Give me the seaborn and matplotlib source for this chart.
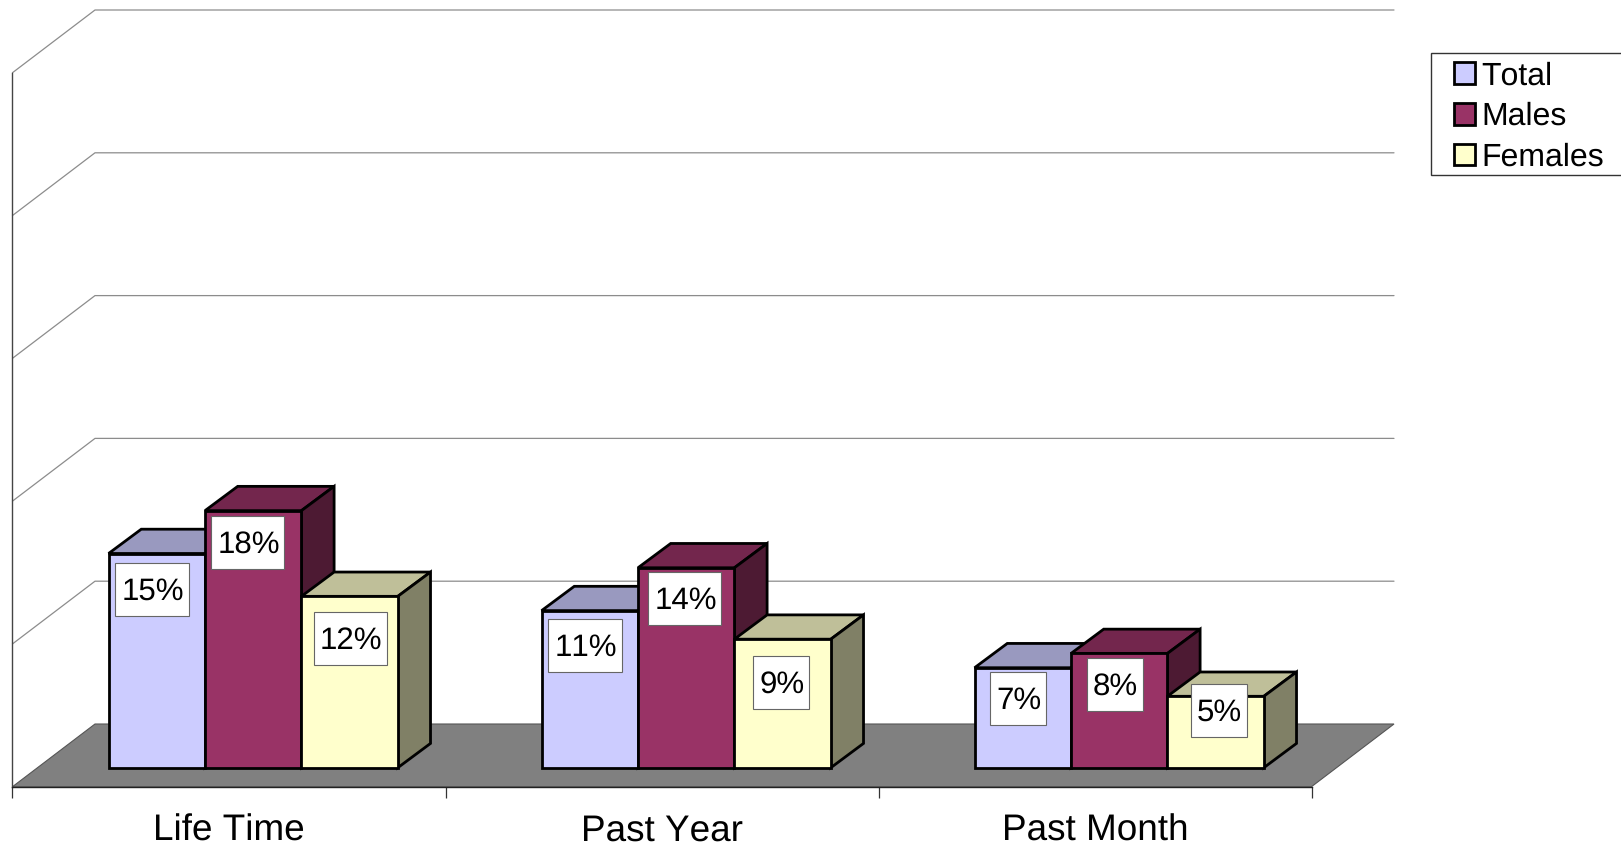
import pandas as pd
import matplotlib
matplotlib.use('Agg')
import matplotlib.pyplot as plt
from matplotlib.patches import Patch, Polygon, Rectangle
from matplotlib.transforms import IdentityTransform
from matplotlib.ticker import FixedLocator
import seaborn as sns

categories = ['Life Time', 'Past Year', 'Past Month']
series = ['Total', 'Males', 'Females']
total = [15, 11, 7]
males = [18, 14, 8]
females = [12, 9, 5]

front_colors = ['#CCCCFF', '#993366', '#FFFFCC']
top_colors = ['#9999BF', '#73264D', '#BFBF99']
side_colors = ['#666680', '#4D1A33', '#808066']

W, H = 1621, 851
X0, Y0 = 12.5, 786.7      # pixel position of the front left corner
PX_X, PX_Y = 433.0, 14.28  # pixels per category / per percent
BACK_DX, BACK_DY = 82.5 / PX_X, 62.7 / PX_Y
DEPTH_X, DEPTH_Y = 32.7 / PX_X, 24.3 / PX_Y
BAR_SHIFT_X, BAR_SHIFT_Y = 24.2 / PX_X, 19.0 / PX_Y
EDGE = 2.0

# label box centre relative to the bar's top centre, in pixels
label_dx = [[-5, -5.5, 0.7], [-5, -1.6, -1.5], [-5, -4.5, 3]]
label_dy = [[36, 32, 42], [35, 31, 43], [31, 31, 14]]

sns.set_style('white')
plt.rcParams['font.family'] = ['Liberation Sans', 'DejaVu Sans']
plt.rcParams['text.hinting'] = 'none'
plt.rcParams['text.kerning_factor'] = 20

df = pd.DataFrame({
    'category': categories * 3,
    'series': [s for s in series for _ in categories],
    'value': total + males + females,
})

fig = plt.figure(figsize=(W / 100, H / 100), dpi=100)
ax = fig.add_axes([0, 0, 1, 1])
ax.patch.set_alpha(0)

sns.barplot(data=df, x='category', y='value', hue='series', order=categories,
            hue_order=series, palette=front_colors, width=0.668, legend=False,
            saturation=1, errorbar=None, ax=ax)

ax.set_xlim(-0.5 - X0 / PX_X, -0.5 + (W - X0) / PX_X)
ax.set_ylim((Y0 - H) / PX_Y, Y0 / PX_Y)

# floor and back wall
x_l, x_r = -0.5, 2.5
ax.add_patch(Polygon([(x_l, 0), (x_r, 0), (x_r + BACK_DX, BACK_DY), (x_l + BACK_DX, BACK_DY)],
                     facecolor='#808080', edgecolor='#555555', lw=0.8, zorder=1))
for level in range(10, 60, 10):
    ax.plot([x_l, x_l + BACK_DX, x_r + BACK_DX], [level, level + BACK_DY, level + BACK_DY],
            color='#8c8c8c', lw=0.9, zorder=1)

# 3d faces of the bars
renderer = fig.canvas.get_renderer()
for s, container in enumerate(ax.containers):
    for c, bar in enumerate(container):
        bx0 = bar.get_x() + BAR_SHIFT_X
        bw = bar.get_width()
        value = bar.get_height()
        bar.set_x(bx0)
        bar.set_y(BAR_SHIFT_Y)
        bar.set_edgecolor('black')
        bar.set_linewidth(EDGE)
        bar.set_zorder(3 + s + 0.5)
        bar.set_joinstyle('miter')
        top = BAR_SHIFT_Y + value
        ax.add_patch(Polygon([(bx0, top), (bx0 + bw, top), (bx0 + bw + DEPTH_X, top + DEPTH_Y),
                              (bx0 + DEPTH_X, top + DEPTH_Y)],
                             facecolor=top_colors[s], edgecolor='black', lw=EDGE, zorder=3 + s))
        ax.add_patch(Polygon([(bx0 + bw, BAR_SHIFT_Y), (bx0 + bw + DEPTH_X, BAR_SHIFT_Y + DEPTH_Y),
                              (bx0 + bw + DEPTH_X, top + DEPTH_Y), (bx0 + bw, top)],
                             facecolor=side_colors[s], edgecolor='black', lw=EDGE, zorder=3 + s))

        # value label in a white box
        t = ax.annotate(f'{value:.0f}%', xy=(bx0 + bw / 2, top),
                        xytext=((label_dx[c][s] + 1) * 0.72, (-label_dy[c][s] + 1) * 0.72),
                        textcoords='offset points', ha='center', va='center_baseline',
                        fontsize=22.5, color='black', zorder=11)
        ext = t.get_window_extent(renderer)
        cx, cy = ax.transData.transform((bx0 + bw / 2, top))
        cx += label_dx[c][s]
        cy -= label_dy[c][s]
        box_w = ext.width + 11
        box_h = 53
        ax.add_patch(Rectangle((cx - box_w / 2, cy - box_h / 2), box_w, box_h,
                               transform=IdentityTransform(), facecolor='white',
                               edgecolor='#666666', lw=0.8, zorder=10))

# axes
for name in ['top', 'right']:
    ax.spines[name].set_visible(False)
ax.spines['left'].set_position(('data', x_l))
ax.spines['left'].set_bounds(0, 50)
ax.spines['left'].set_color('#444444')
ax.spines['left'].set_linewidth(1.0)
ax.spines['bottom'].set_position(('data', 0))
ax.spines['bottom'].set_bounds(x_l, x_r)
ax.spines['bottom'].set_color('#222222')
ax.spines['bottom'].set_linewidth(1.0)
ax.set_yticks([])
ax.set_xlabel('')
ax.set_ylabel('')
ax.xaxis.set_minor_locator(FixedLocator([-0.5, 0.5, 1.5, 2.5]))
ax.tick_params(axis='x', which='minor', bottom=True, length=8.2, width=0.9, color='#333333')
ax.tick_params(axis='x', which='major', bottom=False, length=0, pad=19.5, labelsize=26.6, labelcolor='black')

# legend
fig.add_artist(Rectangle((1430.7 / W, 1 - 175 / H), 260 / W, 122.3 / H,
                         transform=fig.transFigure, facecolor='white', edgecolor='#333333', lw=1.0))
handles = [Patch(facecolor=col, edgecolor='black', lw=EDGE, label=lab)
           for col, lab in zip(front_colors, series)]
fig.legend(handles=handles, loc='upper left', bbox_to_anchor=(1451 / W, 1 - 58 / H),
           frameon=False, fontsize=23, borderaxespad=0, borderpad=0.1, handlelength=0.65,
           handleheight=0.65, handletextpad=0.19, labelspacing=0.34, labelcolor='black')

fig.savefig('out.png', dpi=100)
